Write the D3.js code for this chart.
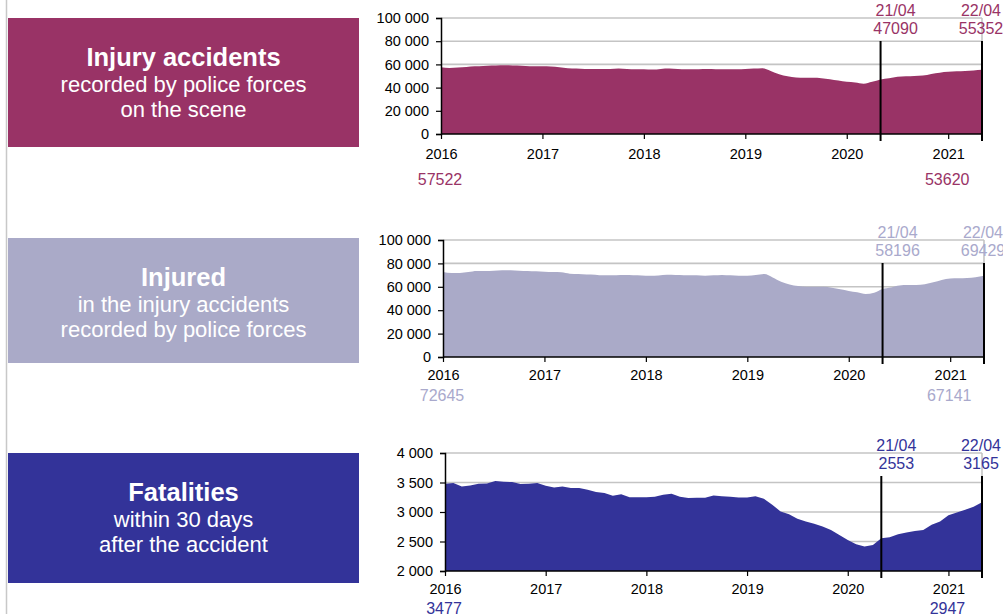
<!DOCTYPE html>
<html>
<head>
<meta charset="utf-8">
<script src="https://cdn.jsdelivr.net/npm/d3@7/dist/d3.min.js"></script>
<style>
  body { margin: 0; background: #fff; }
  svg { display: block; font-family: 'Liberation Sans', Arial, sans-serif; }
</style>
</head>
<body>
<div id="chart"></div>
<script>
// monthly rolling 12-month totals, first point = jan 2016
const startYear = 2016
const yearTicks = [2016, 2017, 2018, 2019, 2020, 2021]

const accidents = [
  57522, 57000, 57300, 57800, 58400, 58700, 59000, 59300, 59300, 59000, 58700, 58400,
  58400, 58100, 57500, 56700, 56400, 56100, 56100, 56100, 56100, 56400, 56100, 55800,
  55800, 55500, 56100, 56400, 56100, 55800, 55800, 56100, 56100, 55800, 55800, 55800,
  56100, 56400, 56700, 54400, 51600, 49800, 48700, 48400, 48400, 48100, 47300, 46100,
  45000, 44400, 43300, 45000, 47090, 48100, 49300, 49800, 50100, 50400, 51800, 52900,
  53620, 54000, 54300, 54800, 55352,
]
const injured = [
  72645, 71800, 71800, 72600, 73500, 73500, 73800, 74100, 74100, 73800, 73500, 73200,
  72900, 72600, 72400, 71200, 70900, 70600, 70400, 69800, 69800, 70100, 70100, 69800,
  69500, 69500, 70100, 70400, 70100, 69800, 69800, 69500, 69800, 70100, 69800, 69500,
  69500, 70100, 70900, 68000, 64300, 62000, 60600, 60100, 60100, 60100, 59200, 57800,
  56400, 55300, 53800, 55000, 58196, 59500, 61200, 61500, 61500, 62100, 63800, 65800,
  67141, 67300, 67600, 68200, 69429,
]
const fatalities = [
  3477, 3490, 3433, 3450, 3479, 3485, 3525, 3513, 3508, 3474, 3479, 3490,
  3445, 3416, 3433, 3405, 3405, 3377, 3338, 3321, 3275, 3300, 3252, 3252,
  3252, 3258, 3292, 3309, 3258, 3236, 3241, 3241, 3280, 3269, 3258, 3247,
  3247, 3269, 3224, 3122, 3009, 2963, 2884, 2838, 2799, 2753, 2697, 2612,
  2527, 2454, 2414, 2442, 2553, 2570, 2624, 2651, 2680, 2697, 2782, 2838,
  2947, 2990, 3040, 3090, 3165,
]

const countTicks = [0, 20000, 40000, 60000, 80000, 100000]
const fatalTicks = [2000, 2500, 3000, 3500, 4000]

// which months get a value printed
const markerIndex = [52, 64]
const markerLabels = ['21/04', '22/04']
const bottomIndex = [0, 60]

const titles = ['Injury accidents', 'Injured', 'Fatalities']
const subtitles = [
  ['recorded by police forces', 'on the scene'],
  ['in the injury accidents', 'recorded by police forces'],
  ['within 30 days', 'after the accident'],
]
const fills = ['#993366', '#aaaac8', '#333399']
const textColors = ['#993366', '#a9a9cc', '#333399']

const width = 1003
const height = 614

const panels = [
  { data: accidents, ticks: countTicks, box: [18, 129], plot: { left: 441, right: 982, top: 18, bottom: 134 }, below: 51, pad: 10 },
  { data: injured, ticks: countTicks, box: [238, 125], plot: { left: 443, right: 984, top: 240, bottom: 357 }, below: 44, pad: 8 },
  { data: fatalities, ticks: fatalTicks, box: [453, 130], plot: { left: 445, right: 982, top: 453, bottom: 571 }, below: 43, pad: 8 },
]

const locale = d3.formatLocale({ decimal: ',', thousands: ' ', grouping: [3], currency: ['', ''] })
const fmt = locale.format(',d')

const svg = d3.select('#chart').append('svg').attr('width', width).attr('height', height)

// thin grey rule on the far left
svg.append('line')
  .attr('x1', 6.5).attr('x2', 6.5)
  .attr('y1', 0).attr('y2', height)
  .style('stroke', '#c8c8c8')
  .style('stroke-width', 1.5)

panels.forEach((p, k) => drawPanel(p, k))

function drawPanel(p, k) {
  const color = fills[k]
  const tcolor = textColors[k]

  // coloured title box
  const bx = 8
  const bw = 351
  svg.append('rect')
    .attr('x', bx).attr('y', p.box[0])
    .attr('width', bw).attr('height', p.box[1])
    .attr('fill', color)

  const tx = bx + bw / 2
  svg.append('text')
    .attr('x', tx).attr('y', p.box[0] + 47.5)
    .attr('text-anchor', 'middle')
    .attr('fill', '#fff')
    .style('font-size', '25.5px')
    .style('font-weight', 'bold')
    .text(titles[k])
  subtitles[k].forEach((s, j) => {
    svg.append('text')
      .attr('x', tx).attr('y', p.box[0] + 73.5 + j * 25)
      .attr('text-anchor', 'middle')
      .attr('fill', '#fff')
      .style('font-size', '22px')
      .text(s)
  })

  const x = d3.scaleLinear()
    .domain([startYear, startYear + (p.data.length - 1) / 12])
    .range([p.plot.left, p.plot.right])
  const y = d3.scaleLinear()
    .domain(d3.extent(p.ticks))
    .range([p.plot.bottom, p.plot.top])

  const g = svg.append('g')

  // gridlines + right frame
  g.selectAll('.grid')
    .data(p.ticks.slice(1))
    .join('line')
    .attr('x1', p.plot.left).attr('x2', p.plot.right)
    .attr('y1', (d) => y(d)).attr('y2', (d) => y(d))
    .style('stroke', '#c4c4c4')
    .style('stroke-width', 1.6)
  g.append('line')
    .attr('x1', p.plot.right).attr('x2', p.plot.right)
    .attr('y1', p.plot.top).attr('y2', p.plot.bottom)
    .style('stroke', '#c4c4c4')
    .style('stroke-width', 1.6)

  const area = d3.area()
    .x((d, i) => x(startYear + i / 12))
    .y0(p.plot.bottom)
    .y1((d) => y(d))
    .curve(k === 2 ? d3.curveLinear : d3.curveMonotoneX)

  g.append('path')
    .datum(p.data)
    .attr('d', area)
    .attr('fill', color)

  // axes
  const yAxis = g.append('g')
    .attr('transform', `translate(${p.plot.left},0)`)
    .call(d3.axisLeft(y).tickValues(p.ticks).tickFormat(fmt).tickSize(5).tickPadding(7))
  const xAxis = g.append('g')
    .attr('transform', `translate(0,${p.plot.bottom})`)
    .call(d3.axisBottom(x).tickValues(yearTicks).tickFormat(d3.format('d')).tickSize(5).tickPadding(p.pad))
  ;[yAxis, xAxis].forEach((a) => {
    a.select('.domain').style('stroke', '#000').style('stroke-width', 1.5)
    a.selectAll('.tick line').style('stroke', '#000').style('stroke-width', 1.2)
    a.selectAll('.tick text').style('font-size', '14.5px').attr('fill', '#000')
  })
  xAxis.select('.domain').attr('d', `M${p.plot.left},0H${p.plot.right}`)

  // vertical markers with their values
  markerIndex.forEach((m, j) => {
    const mx = x(startYear + m / 12)
    g.append('line')
      .attr('x1', mx).attr('x2', mx)
      .attr('y1', p.plot.top + 23).attr('y2', p.plot.bottom + 7)
      .style('stroke', '#000')
      .style('stroke-width', 2)
    const lx = j === 0 ? mx + 15 : mx - 1
    g.append('text')
      .attr('x', lx).attr('y', p.plot.top - 2.5)
      .attr('text-anchor', 'middle')
      .attr('fill', tcolor)
      .style('font-size', '16px')
      .text(markerLabels[j])
    g.append('text')
      .attr('x', lx).attr('y', p.plot.top + 16)
      .attr('text-anchor', 'middle')
      .attr('fill', tcolor)
      .style('font-size', '16px')
      .text(p.data[m])
  })

  // first and january-2021 values under the axis
  bottomIndex.forEach((m) => {
    g.append('text')
      .attr('x', x(startYear + m / 12) - 1)
      .attr('y', p.plot.bottom + p.below)
      .attr('text-anchor', 'middle')
      .attr('fill', tcolor)
      .style('font-size', '16px')
      .text(p.data[m])
  })
}
</script>
</body>
</html>
